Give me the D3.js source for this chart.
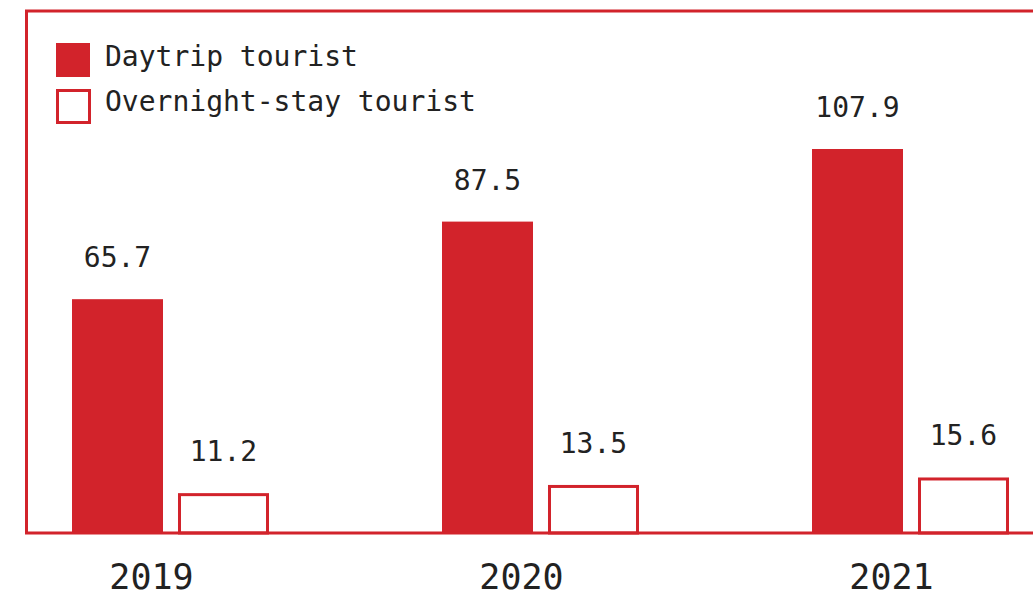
<!DOCTYPE html>
<html>
<head>
<meta charset="utf-8">
<script src="https://cdn.jsdelivr.net/npm/d3@7"></script>
<style>
  html, body { margin: 0; padding: 0; background: #fff; }
  svg { display: block; }
  text { font-family: "DejaVu Sans Mono", "Liberation Mono", monospace; fill: #222; }
</style>
</head>
<body>
<svg id="chart" width="1033" height="599"></svg>
<script>
const years = ["2019", "2020", "2021"];
const seriesNames = ["Daytrip tourist", "Overnight-stay tourist"];
const daytrip = [65.7, 87.5, 107.9];
const overnight = [11.2, 13.5, 15.6];

const RED = "#d2232b";
const W = 1033, H = 599;
const svg = d3.select("#chart");

const baseY = 533;
const y = d3.scaleLinear().domain([0, 107.9]).range([baseY, 149]);

const x0 = d3.scaleBand().domain(years).range([-14.5, 1095.5]).paddingInner(0).paddingOuter(0);
const x1 = d3.scaleBand().domain(["day", "night"]).range([-98.5, 98.5]).paddingInner(0.1415).paddingOuter(0);

const rows = years.map((yr, i) => ({ year: yr, day: daytrip[i], night: overnight[i] }));

// frame (left, top; right side runs off the canvas)
svg.append("path")
  .attr("d", `M26.5,${baseY} V11 H${W + 10}`)
  .attr("fill", "none").attr("stroke", RED).attr("stroke-width", 3);

const g = svg.append("g").selectAll("g").data(rows).join("g")
  .attr("transform", d => `translate(${x0(d.year) + x0.bandwidth() / 2},0)`);

// daytrip bars
g.append("rect")
  .attr("x", x1("day"))
  .attr("width", x1.bandwidth())
  .attr("y", d => y(d.day))
  .attr("height", d => baseY - y(d.day))
  .attr("fill", RED);

// overnight bars (outlined)
g.append("rect")
  .attr("x", x1("night") + 1.5)
  .attr("width", x1.bandwidth() - 3)
  .attr("y", d => y(d.night) + 1.5)
  .attr("height", d => baseY - y(d.night) - 1.5)
  .attr("fill", "#fff")
  .attr("stroke", RED).attr("stroke-width", 3);

// value labels
g.append("text")
  .attr("x", x1("day") + x1.bandwidth() / 2)
  .attr("y", d => y(d.day) - 32)
  .attr("text-anchor", "middle")
  .attr("font-size", 28)
  .text(d => d.day.toFixed(1));

g.append("text")
  .attr("x", x1("night") + x1.bandwidth() / 2)
  .attr("y", d => y(d.night) - 32)
  .attr("text-anchor", "middle")
  .attr("font-size", 28)
  .text(d => d.night.toFixed(1));

// baseline
svg.append("line")
  .attr("x1", 25).attr("x2", W + 10)
  .attr("y1", baseY).attr("y2", baseY)
  .attr("stroke", RED).attr("stroke-width", 3);

// year labels
g.append("text")
  .attr("x", -19)
  .attr("y", 589)
  .attr("text-anchor", "middle")
  .attr("font-size", 35)
  .text(d => d.year);

// legend
const legend = svg.append("g");
legend.append("rect").attr("x", 56).attr("y", 43).attr("width", 34).attr("height", 34).attr("fill", RED);
legend.append("rect").attr("x", 57.5).attr("y", 90.5).attr("width", 32).attr("height", 32)
  .attr("fill", "#fff").attr("stroke", RED).attr("stroke-width", 3);
legend.append("text").attr("x", 105).attr("y", 66).attr("font-size", 28).text(seriesNames[0]);
legend.append("text").attr("x", 105).attr("y", 111).attr("font-size", 28).text(seriesNames[1]);
</script>
</body>
</html>
